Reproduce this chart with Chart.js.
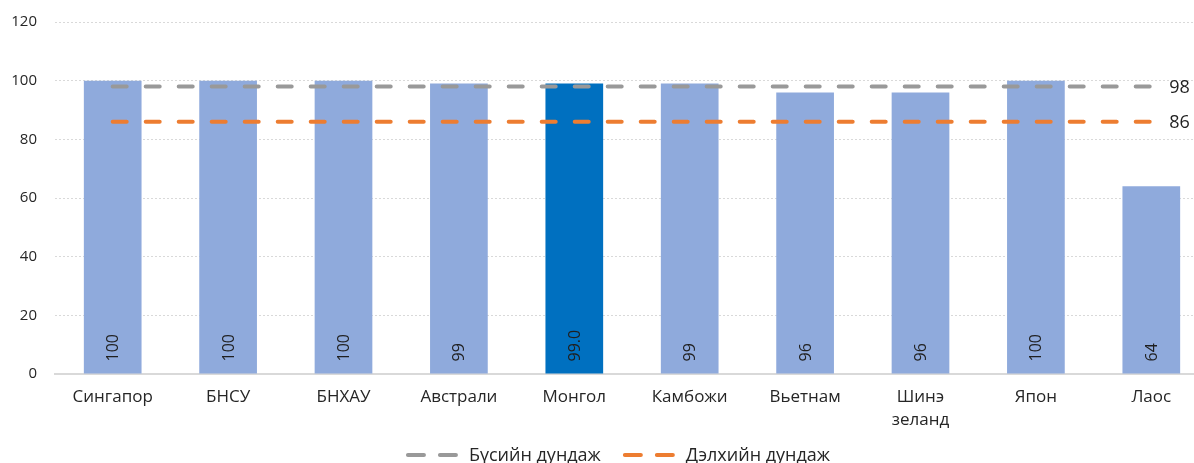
<!DOCTYPE html>
<html>
<head>
<meta charset="utf-8">
<script src="https://cdn.jsdelivr.net/npm/chart.js@4/dist/chart.umd.min.js"></script>
<style>
html,body{margin:0;padding:0;background:#fff;overflow:hidden;width:1194px;height:463px;}
#wrap{width:1209px;height:463px;}
</style>
</head>
<body>
<div id="wrap"><canvas id="c" width="1209" height="463"></canvas></div>
<script>
const categories = ['Сингапор','БНСУ','БНХАУ','Австрали','Монгол','Камбожи','Вьетнам',['Шинэ','зеланд'],'Япон','Лаос'];
const values = [100,100,100,99,99,99,96,96,100,64];
const highlightIndex = 4;
const regionAvg = 98;
const worldAvg = 86;
const regionName = 'Бүсийн дундаж';
const worldName = 'Дэлхийн дундаж';
const yTicks = [0,20,40,60,80,100,120];

const FONT = '"Open Sans", "Noto Sans", sans-serif';
const TXT = '#262626';
const barColor = '#8FAADC';
const hiColor = '#0070C0';
const grayLine = '#999999';
const orangeLine = '#ED7D31';

const valueLabelPlugin = {
  id: 'valueLabels',
  afterDatasetsDraw(chart) {
    const ctx = chart.ctx;
    const meta = chart.getDatasetMeta(0);
    ctx.save();
    ctx.font = '16px ' + FONT;
    ctx.fillStyle = '#1f1f1f';
    ctx.textAlign = 'left';
    ctx.textBaseline = 'middle';
    meta.data.forEach((bar, i) => {
      const v = values[i];
      const txt = i === highlightIndex ? v.toFixed(1) : String(Math.round(v));
      ctx.save();
      ctx.translate(bar.x, bar.base - 12);
      ctx.rotate(-Math.PI / 2);
      ctx.fillText(txt, 0, 1);
      ctx.restore();
    });
    ctx.restore();
  }
};

const lineEndLabels = {
  id: 'lineEndLabels',
  afterDatasetsDraw(chart) {
    const ctx = chart.ctx;
    ctx.save();
    ctx.font = '18px ' + FONT;
    ctx.fillStyle = '#1f1f1f';
    ctx.textAlign = 'left';
    ctx.textBaseline = 'middle';
    [1, 2].forEach(di => {
      const meta = chart.getDatasetMeta(di);
      const last = meta.data[meta.data.length - 1];
      const val = chart.data.datasets[di].data[meta.data.length - 1];
      ctx.fillText(String(val), last.x + 18, last.y + 1);
    });
    ctx.restore();
  }
};

const customLegend = {
  id: 'customLegend',
  afterDraw(chart) {
    const ctx = chart.ctx;
    ctx.save();
    ctx.font = '18px ' + FONT;
    const items = [
      {name: regionName, color: grayLine},
      {name: worldName, color: orangeLine}
    ];
    const sym = 52, gapSymText = 11, gapItems = 22;
    let total = 0;
    items.forEach((it, i) => {
      it.w = ctx.measureText(it.name).width;
      total += sym + gapSymText + it.w + (i < items.length - 1 ? gapItems : 0);
    });
    let x = 618 - total / 2;
    const y = 455;
    items.forEach(it => {
      ctx.strokeStyle = it.color;
      ctx.lineWidth = 4;
      ctx.lineCap = 'round';
      ctx.beginPath();
      ctx.moveTo(x + 2, y); ctx.lineTo(x + 18, y);
      ctx.moveTo(x + 34, y); ctx.lineTo(x + 50, y);
      ctx.stroke();
      ctx.fillStyle = TXT;
      ctx.textAlign = 'left';
      ctx.textBaseline = 'middle';
      ctx.fillText(it.name, x + sym + gapSymText, y + 1);
      x += sym + gapSymText + it.w + gapItems;
    });
    ctx.restore();
  }
};

new Chart(document.getElementById('c'), {
  type: 'bar',
  data: {
    labels: categories,
    datasets: [
      {
        type: 'bar',
        data: values,
        backgroundColor: values.map((v, i) => i === highlightIndex ? hiColor : barColor),
        borderWidth: 0,
        barPercentage: 1,
        categoryPercentage: 0.5,
        order: 2
      },
      {
        type: 'line',
        label: regionName,
        data: categories.map(() => regionAvg),
        borderColor: grayLine,
        borderWidth: 4,
        borderDash: [14, 19],
        borderCapStyle: 'round',
        pointRadius: 0,
        fill: false,
        order: 1
      },
      {
        type: 'line',
        label: worldName,
        data: categories.map(() => worldAvg),
        borderColor: orangeLine,
        borderWidth: 4,
        borderDash: [14, 19],
        borderCapStyle: 'round',
        pointRadius: 0,
        fill: false,
        order: 1
      }
    ]
  },
  options: {
    responsive: false,
    animation: false,
    events: [],
    layout: {padding: {top: 22, bottom: 0, left: 0, right: 0}},
    plugins: {legend: {display: false}, tooltip: {enabled: false}},
    scales: {
      x: {
        grid: {display: false, drawTicks: false},
        border: {display: true, color: '#D9D9D9', width: 2},
        ticks: {font: {family: FONT, size: 17, lineHeight: 1.35}, color: TXT, padding: 12, maxRotation: 0, autoSkip: false},
        afterFit(s) { s.height = 89; s.paddingLeft = 0; s.paddingRight = 0; }
      },
      y: {
        min: 0, max: 120,
        afterBuildTicks(s) { s.ticks = yTicks.map(v => ({value: v})); },
        grid: {color: '#D9D9D9', lineWidth: 1, drawTicks: false},
        border: {display: false, dash: [2, 2]},
        ticks: {font: {family: FONT, size: 15}, color: TXT, padding: 18},
        afterFit(s) { s.width = 55; s.paddingTop = 0; s.paddingBottom = 0; }
      }
    }
  },
  plugins: [valueLabelPlugin, lineEndLabels, customLegend]
});
</script>
</body>
</html>
